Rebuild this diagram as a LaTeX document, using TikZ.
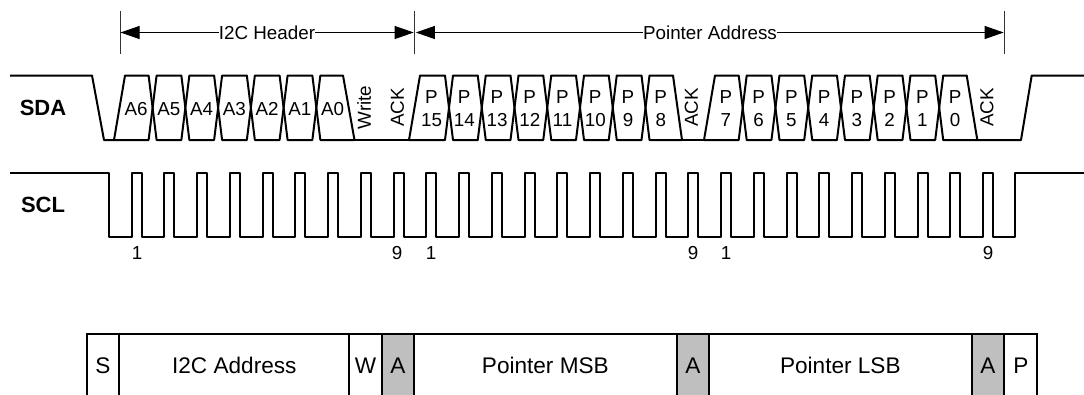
\documentclass[tikz,border=0pt]{standalone}
\usepackage{fontspec}
\setmainfont{Liberation Sans}
\usetikzlibrary{arrows.meta}
\tikzset{
  wave/.style={line width=2pt,line join=round,black},
  lbl/.style={font=\fontsize{18.8pt}{23pt}\selectfont,inner sep=0pt,text=black},
  capl/.style={lbl,text height=13.5pt,text depth=0pt},
  sig/.style={font=\fontsize{22pt}{24pt}\selectfont\bfseries,inner sep=0pt,text height=15.8pt,text depth=0pt},
  pbit/.style={lbl,align=center},
  dim/.style={line width=0.9pt,black},
  dimtip/.style={dim,-{Triangle[length=19pt,width=13pt]}},
  tick/.style={line width=0.8pt,black!80},
  cell/.style={draw=black,line width=2pt,minimum height=62.8pt,inner sep=0pt,
    font=\fontsize{22.6pt}{24pt}\selectfont,text height=16.2pt,text depth=0pt},
  ackcell/.style={cell,fill=black!25},
}
\newcommand{\buscells}[6]{% bottom start, top start, first crossing, crossings-1, top end, bottom end
  \draw[wave] (#1,140)--(#2,75.5)--({#3-4},75.5)--(#3,107.75)--({#3-4},140)--cycle;
  \foreach \k in {1,...,#4}{
    \pgfmathsetmacro{\cl}{#3+32.75*(\k-1)}
    \pgfmathsetmacro{\cr}{\cl+32.75}
    \draw[wave] (\cl,107.75)--({\cl+4},75.5)--({\cr-4},75.5)--(\cr,107.75)--({\cr-4},140)--({\cl+4},140)--cycle;
  }
  \pgfmathsetmacro{\cl}{#3+32.75*#4}
  \draw[wave] (\cl,107.75)--({\cl+4},75.5)--(#5,75.5)--(#6,140)--({\cl+4},140)--cycle;
}
\newcommand{\fieldcell}[5][cell]{% style, name, x1, x2, text
  \node[#1,minimum width={#4-#3}] (#2) at ({(#3+#4)/2},365.7) {#5};
}
\begin{document}
\begin{tikzpicture}[x=1pt,y=-1pt]
\useasboundingbox (0,0) rectangle (1084,394);
\clip (0,0) rectangle (1084,394);

% dimension lines
\draw[tick] (120,11)--(120,54);
\draw[tick] (414.7,11)--(414.7,54);
\draw[tick] (1004.3,11)--(1004.3,54);
\coordinate (h1) at (120.5,32.5);
\coordinate (h2) at (413.7,32.5);
\coordinate (p1) at (415.8,32.5);
\coordinate (p2) at (1003.7,32.5);
\node[capl] (hdr) at (267,32.5) {I2C Header};
\node[capl] (ptr) at (710,32.5) {Pointer Address};
\draw[dimtip] (hdr.west) -- (h1);
\draw[dimtip] (hdr.east) -- (h2);
\draw[dimtip] (ptr.west) -- (p1);
\draw[dimtip] (ptr.east) -- (p2);

% signal names
\node[sig] (sda) at (43,108) {SDA};
\node[sig] (scl) at (43,205) {SCL};

% SDA
\draw[wave] (10,75.5)--(92,75.5)--(104,140)--(114,140);
\buscells{114}{125}{152.6}{5}{343}{354.5}
\draw[wave] (354.5,140)--(409,140);
\buscells{409}{420}{449}{6}{673}{682}
\draw[wave] (682,140)--(704,140);
\buscells{704}{715}{742.7}{6}{966.7}{977.3}
\draw[wave] (977.3,140)--(1021,140)--(1031.7,75.5)--(1084,75.5);

% SDA bit labels
\foreach \t [count=\i from 0] in {A6,A5,A4,A3,A2,A1,A0}{
  \node[capl] (a\i) at ({136+32.75*\i},108.3) {\t};
}
\node[capl,rotate=90] (wr) at (364,107.5) {Write};
\node[capl,rotate=90] (ack1) at (397,107.5) {ACK};
\foreach \t [count=\i from 0] in {15,14,13,12,11,10,9,8}{
  \node[pbit] (pa\i) at ({431.5+32.75*\i},108.5) {P\\\t};
}
\node[capl,rotate=90] (ack2) at (691,107.5) {ACK};
\foreach \t [count=\i from 0] in {7,6,5,4,3,2,1,0}{
  \node[pbit] (pb\i) at ({725.8+32.75*\i},108.5) {P\\\t};
}
\node[capl,rotate=90] (ack3) at (986.7,107.5) {ACK};

% SCL
\draw[wave] (10,173)--(109,173)--(109,237)
  \foreach \k in {0,...,26}{ -- ({131.5+32.75*\k},237) -- ({131.5+32.75*\k},173) -- ({141.5+32.75*\k},173) -- ({141.5+32.75*\k},237) }
  -- (1015.3,237)--(1015.3,173)--(1084,173);

% clock numbers
\node[capl] (n1) at (137,252.5) {1};
\node[capl] (n2) at (397,252.5) {9};
\node[capl] (n3) at (431,252.5) {1};
\node[capl] (n4) at (693,252.5) {9};
\node[capl] (n5) at (726,252.5) {1};
\node[capl] (n6) at (988,252.5) {9};

% frame format
\fieldcell{fs}{86.7}{119.3}{S}
\fieldcell{fa}{119.3}{349.3}{I2C Address}
\fieldcell{fw}{349.3}{381.7}{W}
\fieldcell[ackcell]{fk1}{381.7}{414}{A}
\fieldcell{fm}{414}{676.7}{Pointer MSB}
\fieldcell[ackcell]{fk2}{676.7}{709}{A}
\fieldcell{fl}{709}{971.7}{Pointer LSB}
\fieldcell[ackcell]{fk3}{971.7}{1004.3}{A}
\fieldcell{fp}{1004.3}{1037.3}{P}
\end{tikzpicture}
\end{document}
